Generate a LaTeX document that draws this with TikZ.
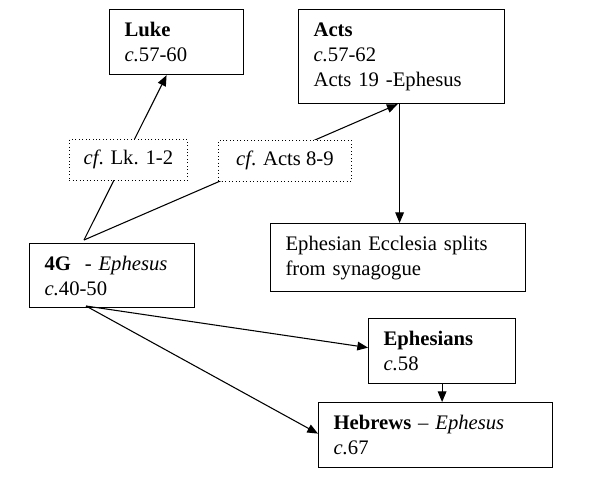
\documentclass[tikz,border=0pt]{standalone}
\usepackage{fontspec}
\setmainfont{Liberation Serif}
\usetikzlibrary{arrows.meta,calc}
\begin{document}
\begin{tikzpicture}[x=0.75pt,y=-0.75pt,
  every node/.style={font=\fontsize{15.5}{18.75}\selectfont},
  box/.style={draw=black,line width=0.9pt,fill=white,rectangle,anchor=north west,
    align=left,inner xsep=11.25pt,inner ysep=0pt},
  dotbox/.style={draw=black,line width=0.6pt,dotted,fill=white,rectangle,anchor=north west,
    align=center,inner sep=0pt},
  conn/.style={line width=0.8pt,-{Triangle[length=8pt,width=6.5pt]}}]
\useasboundingbox[fill=white] (0,0) rectangle (589,480);

\coordinate (gtop) at (84,240);
\coordinate (gbot) at (86,306);

\node[box,minimum width=100.5pt,minimum height=48.75pt,text width=78pt] (luke) at (109,9)
  {\textbf{Luke}\\\textit{c.}57-60};
\node[box,minimum width=154.5pt,minimum height=70.5pt,text width=132pt] (acts) at (298,9)
  {\textbf{Acts}\\\textit{c.}57-62\\Acts 19 -Ephesus};
\node[box,minimum width=191.25pt,minimum height=51pt,text width=168.75pt] (split) at (270,223)
  {Ephesian Ecclesia splits\\from synagogue};
\node[box,minimum width=123.75pt,minimum height=48pt,text width=101.25pt] (g) at (29,243)
  {\textbf{4G}~~- \textit{Ephesus}\\\textit{c.}40-50};
\node[box,minimum width=110.25pt,minimum height=48.75pt,text width=87.75pt] (eph) at (368,318)
  {\textbf{Ephesians}\\\textit{c.}58};
\node[box,minimum width=175.5pt,minimum height=48.75pt,text width=153pt] (heb) at (318,402)
  {\textbf{Hebrews} -- \textit{Ephesus}\\\textit{c.}67};

\draw[conn] (gtop) -- ([xshift=-7.5pt]luke.south);
\draw[conn] (gtop) -- ([xshift=-3pt]acts.south);
\draw[conn] ([xshift=-1.5pt]acts.south) -- ([xshift=-1.5pt]acts.south |- split.north);
\draw[conn] (gbot) -- ([yshift=2.6pt]eph.west);
\draw[conn] (gbot) -- ([yshift=1.1pt]heb.west);
\draw[conn] (eph.south) -- (eph.south |- heb.north);

\node[dotbox,minimum width=88.5pt,minimum height=30.75pt] (cfl) at (69,139) {\textit{cf}. Lk. 1-2};
\node[dotbox,minimum width=99.75pt,minimum height=30.75pt] (cfa) at (218,140) {\textit{cf}. Acts 8-9};
\end{tikzpicture}
\end{document}
